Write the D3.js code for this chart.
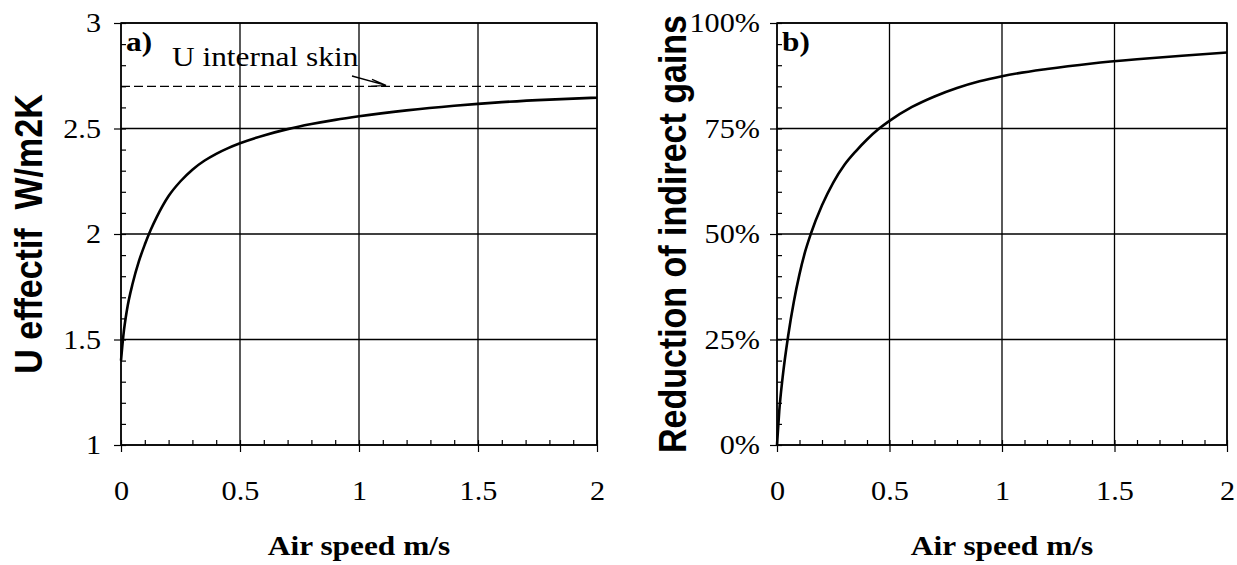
<!DOCTYPE html>
<html>
<head>
<meta charset="utf-8">
<script src="https://cdn.jsdelivr.net/npm/d3@7"></script>
<style>
  body { margin: 0; background: #fff; }
  svg { display: block; }
  .tick text { font-family: "Liberation Serif", "Times New Roman", serif; }
</style>
</head>
<body>
<svg id="chart" width="1237" height="565"></svg>
<script>
// air speed (m/s) sampled along both curves
const speed = [0, 0.01, 0.025, 0.05, 0.075, 0.1, 0.125, 0.15, 0.2, 0.25, 0.3, 0.35, 0.4, 0.45, 0.5,
  0.6, 0.7, 0.8, 0.9, 1.0, 1.2, 1.4, 1.6, 1.8, 2.0];
// a) effective U value, W/m2K
const uEffectif = [1.40, 1.52, 1.64, 1.77, 1.87, 1.95, 2.02, 2.08, 2.18, 2.25, 2.305, 2.347, 2.38, 2.407, 2.43,
  2.467, 2.497, 2.521, 2.541, 2.558, 2.586, 2.608, 2.625, 2.637, 2.646];
// b) reduction of indirect gains, %
const reduction = [0, 8, 16, 26, 34, 40.5, 45.8, 50, 56.8, 62.2, 66.4, 69.6, 72.4, 74.8, 76.8,
  80.1, 82.6, 84.6, 86.2, 87.4, 89.1, 90.4, 91.4, 92.25, 93.0];
const uInternalSkin = 2.7;

const xTicks = [0, 0.5, 1, 1.5, 2];
const uTicks = [1, 1.5, 2, 2.5, 3];
const pctTicks = [0, 25, 50, 75, 100];

const svg = d3.select("#chart");
const SX = 1.12;            // scanned figure is stretched sideways a bit
const plotTop = 23, plotBottom = 445;

function stretchText(sel) {
  sel.each(function () {
    const t = d3.select(this);
    const x = +t.attr("x") || 0;
    t.attr("x", x / SX).attr("transform", `scale(${SX},1)`);
  });
}

function panel(o) {
  const x = d3.scaleLinear().domain([0, 2]).range([o.left, o.right]);
  const y = d3.scaleLinear().domain(o.yDomain).range([plotBottom, plotTop]);
  const g = svg.append("g");

  // grid
  g.append("g").selectAll("line").data(o.yTicks).join("line")
    .attr("x1", o.left).attr("x2", o.right)
    .attr("y1", d => y(d)).attr("y2", d => y(d))
    .attr("stroke", "#000").attr("stroke-width", 1.3);
  g.append("g").selectAll("line").data(xTicks).join("line")
    .attr("x1", d => x(d)).attr("x2", d => x(d))
    .attr("y1", plotTop).attr("y2", plotBottom)
    .attr("stroke", "#000").attr("stroke-width", 1.3);

  // minor ticks, pointing inside
  const xMinor = d3.range(0, 2.0001, 0.1);
  const yMinor = d3.range(o.yDomain[0], o.yDomain[1] + 1e-6, o.yMinorStep);
  g.append("g").attr("transform", `translate(0,${plotBottom})`)
    .call(d3.axisBottom(x).tickValues(xMinor).tickSize(-5).tickFormat(""))
    .call(s => s.select(".domain").remove());
  g.append("g").attr("transform", `translate(${o.left},0)`)
    .call(d3.axisLeft(y).tickValues(yMinor).tickSize(-5).tickFormat(""))
    .call(s => s.select(".domain").remove());

  // major axes
  const ax = g.append("g").attr("transform", `translate(0,${plotBottom})`)
    .call(d3.axisBottom(x).tickValues(xTicks).tickSize(7).tickPadding(29).tickFormat(d3.format("")));
  ax.select(".domain").remove();
  ax.selectAll("text").attr("font-size", 27).attr("fill", "#000").call(stretchText);

  const ay = g.append("g").attr("transform", `translate(${o.left},0)`)
    .call(d3.axisLeft(y).tickValues(o.yTicks).tickSize(7).tickPadding(o.yPad).tickFormat(o.fmt));
  ay.select(".domain").remove();
  ay.selectAll("text").attr("font-size", 27).attr("fill", "#000").call(stretchText);
  g.selectAll(".tick line").attr("stroke", "#000").attr("stroke-width", 1.2);

  // frame
  g.append("rect")
    .attr("x", o.left).attr("y", plotTop)
    .attr("width", o.right - o.left).attr("height", plotBottom - plotTop)
    .attr("fill", "none").attr("stroke", "#000").attr("stroke-width", 1.5);

  // curve
  const line = d3.line()
    .x((d, i) => x(speed[i]))
    .y(d => y(d))
    .curve(d3.curveMonotoneX);
  g.append("path").datum(o.values)
    .attr("d", line)
    .attr("fill", "none").attr("stroke", "#000").attr("stroke-width", 2.6);

  // panel letter
  g.append("text")
    .attr("transform", `translate(${o.left + 5},${plotTop + 28}) scale(${SX},1)`)
    .attr("font-family", "Liberation Serif, serif").attr("font-weight", "bold")
    .attr("font-size", 28).text(o.letter);

  // x title
  g.append("text")
    .attr("transform", `translate(${(o.left + o.right) / 2},555) scale(${SX},1)`)
    .attr("text-anchor", "middle")
    .attr("font-family", "Liberation Serif, serif").attr("font-weight", "bold")
    .attr("font-size", 28).text("Air speed m/s");

  // y title
  g.append("text")
    .attr("transform", `translate(${o.titleX},${(plotTop + plotBottom) / 2}) scale(${SX},1) rotate(-90)`)
    .attr("text-anchor", "middle")
    .attr("font-family", "Liberation Sans, Arial, sans-serif").attr("font-weight", "bold")
    .attr("font-size", 34)
    .style("white-space", "pre")
    .text(o.title);

  return { g, x, y };
}

const a = panel({
  left: 121, right: 597, yDomain: [1, 3], yTicks: uTicks, yMinorStep: 0.1,
  fmt: d3.format(""), yPad: 13, values: uEffectif, letter: "a)",
  title: "U effectif  W/m2K", titleX: 42
});

// U internal skin reference line
a.g.append("line")
  .attr("x1", a.x(0)).attr("x2", a.x(2))
  .attr("y1", a.y(uInternalSkin)).attr("y2", a.y(uInternalSkin))
  .attr("stroke", "#000").attr("stroke-width", 1.3)
  .attr("stroke-dasharray", "9,4");
a.g.append("text")
  .attr("transform", `translate(172,66) scale(${SX},1)`)
  .attr("font-family", "Liberation Serif, serif")
  .attr("font-size", 28).text("U internal skin");
const tipX = 386, tipY = a.y(uInternalSkin) - 1;
a.g.append("path")
  .attr("d", `M352,76 L${tipX},${tipY} M${tipX - 14},${tipY - 6} L${tipX},${tipY} L${tipX - 15},${tipY + 1}`)
  .attr("fill", "none").attr("stroke", "#000").attr("stroke-width", 1.3);

panel({
  left: 777, right: 1227, yDomain: [0, 100], yTicks: pctTicks, yMinorStep: 5,
  fmt: d => d + "%", yPad: 10, values: reduction, letter: "b)",
  title: "Reduction of indirect gains", titleX: 686
});
</script>
</body>
</html>
